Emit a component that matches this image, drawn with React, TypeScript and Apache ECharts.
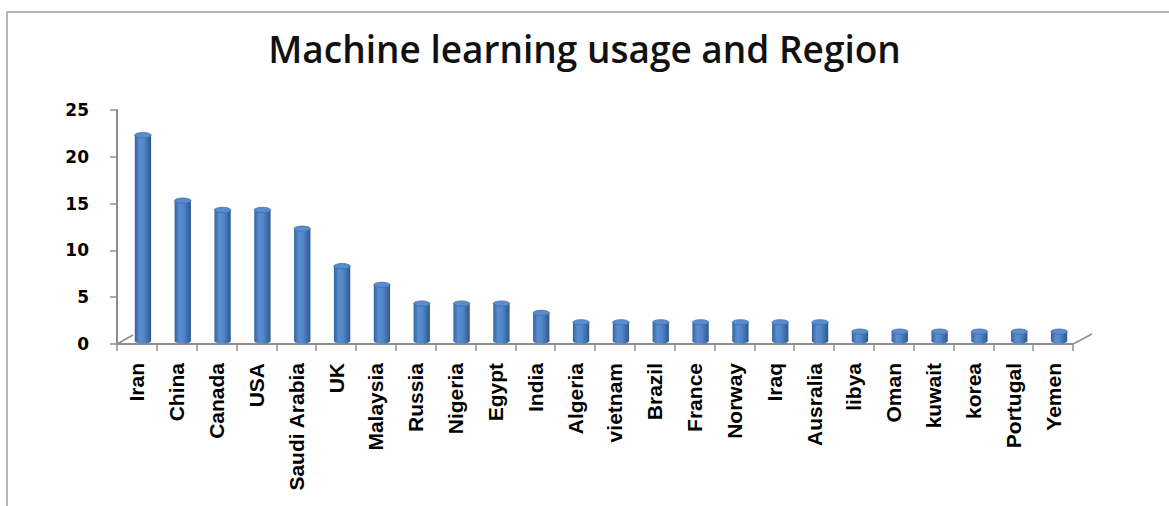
import React, { useEffect, useRef } from "react";
import * as echarts from "echarts";

const TITLE = "Machine learning usage and Region";
const countries = [
  "Iran", "China", "Canada", "USA", "Saudi Arabia", "UK", "Malaysia", "Russia",
  "Nigeria", "Egypt", "India", "Algeria", "vietnam", "Brazil", "France", "Norway",
  "Iraq", "Ausralia", "libya", "Oman", "kuwait", "korea", "Portugal", "Yemen",
];
const usage = [22, 15, 14, 14, 12, 8, 6, 4, 4, 4, 3, 2, 2, 2, 2, 2, 2, 2, 1, 1, 1, 1, 1, 1];
const yTicks = { min: 0, max: 25, interval: 5 };

const GRID = { left: 117, right: 96, top: 110, bottom: 162 };
const W = 1169;
const H = 506;

export default function App() {
  const ref = useRef<HTMLDivElement>(null);
  useEffect(() => {
    if (!ref.current) return;
    const chart = echarts.init(ref.current, null, { renderer: "svg" });
    const axisColor = "#8e8e8e";
    const barGrad = new echarts.graphic.LinearGradient(0, 0, 1, 0, [
      { offset: 0, color: "#34649f" },
      { offset: 0.3, color: "#5a8ed2" },
      { offset: 0.55, color: "#5287c9" },
      { offset: 1, color: "#2c5890" },
    ]);
    const axisY = H - GRID.bottom;
    const axisRight = W - GRID.right;
    chart.setOption({
      animation: false,
      backgroundColor: "#ffffff",
      title: {
        text: TITLE,
        left: "center",
        top: 25,
        textStyle: {
          fontFamily: "Open Sans",
          fontWeight: 600,
          fontSize: 37,
          color: "#111111",
        },
      },
      grid: { ...GRID },
      xAxis: {
        type: "category",
        data: countries,
        boundaryGap: true,
        axisLine: { show: true, lineStyle: { color: axisColor, width: 2 } },
        axisTick: { show: true, length: 7, lineStyle: { color: axisColor, width: 1.5 } },
        axisLabel: {
          interval: 0,
          rotate: 90,
          margin: 19,
          fontFamily: "Liberation Sans",
          fontWeight: "bold",
          fontSize: 21,
          color: "#000000",
        },
      },
      yAxis: {
        type: "value",
        min: yTicks.min,
        max: yTicks.max,
        interval: yTicks.interval,
        splitLine: { show: false },
        axisLine: { show: true, lineStyle: { color: axisColor, width: 2 } },
        axisTick: { show: true, length: 7, lineStyle: { color: axisColor, width: 1.5 } },
        axisLabel: {
          margin: 28,
          fontFamily: "DejaVu Sans",
          fontWeight: "bold",
          fontSize: 17,
          color: "#000000",
        },
      },
      series: [
        {
          type: "custom",
          data: usage.map((v, i) => [i, v]),
          encode: { x: 0, y: 1 },
          renderItem: (params: any, api: any) => {
            const idx = api.value(0);
            const val = api.value(1);
            const base = api.coord([idx, 0]);
            const top = api.coord([idx, val]);
            const bw = api.size([1, 0])[0] * 0.41;
            const dx = 6;
            const dy = -3;
            const cx = base[0] + dx;
            const by = base[1] + dy;
            const ty = top[1] + dy;
            const rx = bw / 2;
            const ry = 2.6;
            return {
              type: "group",
              children: [
                {
                  type: "ellipse",
                  shape: { cx, cy: by, rx, ry },
                  style: { fill: barGrad },
                },
                {
                  type: "rect",
                  shape: { x: cx - rx, y: ty, width: bw, height: by - ty },
                  style: { fill: barGrad },
                },
                {
                  type: "ellipse",
                  shape: { cx, cy: ty, rx, ry },
                  style: { fill: "#5b8ccc", stroke: "#3f6fae", lineWidth: 0.8 },
                },
              ],
            };
          },
        },
      ],
      graphic: [
        {
          type: "rect",
          shape: { x: 7, y: 12, width: W + 20, height: H + 20 },
          style: { fill: "none", stroke: "#b4b4b4", lineWidth: 2 },
        },
        {
          type: "line",
          shape: { x1: GRID.left, y1: axisY, x2: GRID.left + 16, y2: axisY - 9 },
          style: { stroke: axisColor, lineWidth: 1.5 },
        },
        {
          type: "line",
          shape: { x1: axisRight, y1: axisY, x2: axisRight + 19, y2: axisY - 10 },
          style: { stroke: axisColor, lineWidth: 1.5 },
        },
      ],
    });
    return () => chart.dispose();
  }, []);
  return (
    <div
      ref={ref}
      style={{ position: "fixed", left: 0, top: 0, width: W, height: H, background: "#fff" }}
    />
  );
}
